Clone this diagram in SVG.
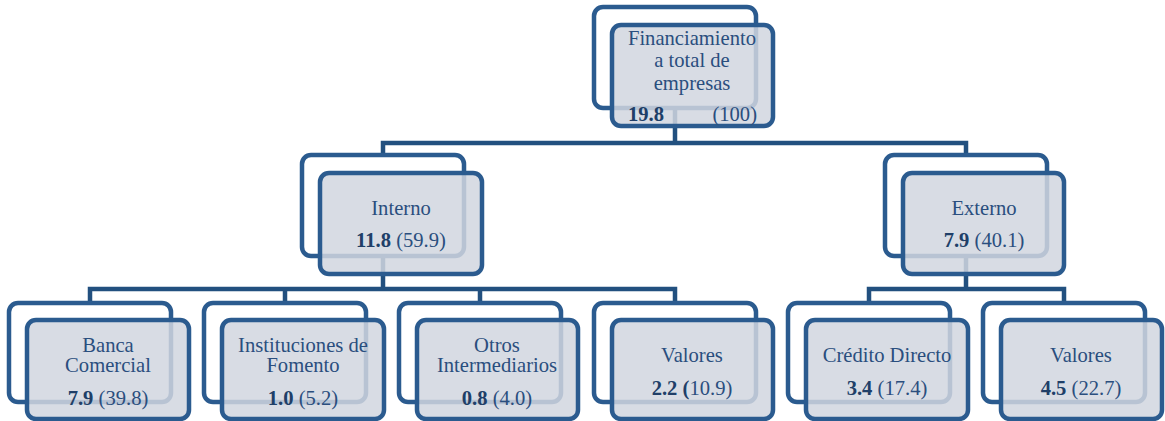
<svg xmlns="http://www.w3.org/2000/svg" width="1165" height="421" viewBox="0 0 1165 421">
  <style>
    .back { fill: #ffffff; stroke: #2b5b8f; stroke-width: 4.5; }
    .front { fill: rgb(209,214,223); fill-opacity: 0.85; stroke: #2b5b8f; stroke-width: 4.5; }
    .conn { fill: none; stroke: #22507f; stroke-width: 4.5; stroke-linejoin: miter; }
    text { font-family: "Liberation Serif", "Times New Roman", serif; font-size: 20.6px; fill: #2a4e7e; text-anchor: middle; }
    .num { font-weight: bold; fill: #203f68; }
  </style>

  <!-- connectors -->
  <g id="connectors">
    <path class="conn" d="M675 108 V143 M383 155 V143 H966 V155"/>
    <path class="conn" d="M383 256 V289 M90 303 V289 H675 V303 M285 289 V303 M480 289 V303"/>
    <path class="conn" d="M966 256 V289 M869 303 V289 H1064 V303"/>
  </g>

  <!-- root -->
  <g id="node-total">
    <rect class="back" x="594" y="7" width="162" height="101" rx="9"/>
    <rect class="front" x="612" y="25" width="161" height="101" rx="9"/>
    <text x="692" y="45">Financiamiento</text>
    <text x="692" y="67">a total de</text>
    <text x="692" y="90">empresas</text>
    <text x="628" y="121" style="text-anchor:start" class="num">19.8</text>
    <text x="757" y="121" style="text-anchor:end">(100)</text>
  </g>

  <!-- second level -->
  <g id="node-interno">
    <rect class="back" x="302" y="155" width="162" height="101" rx="9"/>
    <rect class="front" x="320" y="173" width="162" height="101" rx="9"/>
    <text x="401" y="215">Interno</text>
    <text x="401" y="247"><tspan class="num">11.8</tspan> (59.9)</text>
  </g>

  <g id="node-externo">
    <rect class="back" x="885" y="155" width="162" height="101" rx="9"/>
    <rect class="front" x="903" y="173" width="161" height="101" rx="9"/>
    <text x="984" y="215">Externo</text>
    <text x="984" y="247"><tspan class="num">7.9</tspan> (40.1)</text>
  </g>

  <!-- third level -->
  <g id="node-banca">
    <rect class="back" x="9" y="303" width="162" height="99" rx="9"/>
    <rect class="front" x="27" y="320" width="162" height="99" rx="9"/>
    <text x="108" y="352">Banca</text>
    <text x="108" y="372">Comercial</text>
    <text x="108" y="405"><tspan class="num">7.9</tspan> (39.8)</text>
  </g>

  <g id="node-fomento">
    <rect class="back" x="204" y="303" width="162" height="99" rx="9"/>
    <rect class="front" x="222" y="320" width="162" height="99" rx="9"/>
    <text x="303" y="352">Instituciones de</text>
    <text x="303" y="372">Fomento</text>
    <text x="303" y="405"><tspan class="num">1.0</tspan> (5.2)</text>
  </g>

  <g id="node-otros">
    <rect class="back" x="399" y="303" width="162" height="99" rx="9"/>
    <rect class="front" x="417" y="320" width="161" height="99" rx="9"/>
    <text x="497" y="352">Otros</text>
    <text x="497" y="372">Intermediarios</text>
    <text x="497" y="405"><tspan class="num">0.8</tspan> (4.0)</text>
  </g>

  <g id="node-valores-interno">
    <rect class="back" x="594" y="303" width="162" height="99" rx="9"/>
    <rect class="front" x="612" y="320" width="161" height="99" rx="9"/>
    <text x="692" y="362">Valores</text>
    <text x="692" y="395"><tspan class="num">2.2 (</tspan>10.9)</text>
  </g>

  <g id="node-credito">
    <rect class="back" x="788" y="303" width="162" height="99" rx="9"/>
    <rect class="front" x="806" y="320" width="162" height="99" rx="9"/>
    <text x="887" y="362">Crédito Directo</text>
    <text x="887" y="395"><tspan class="num">3.4</tspan> (17.4)</text>
  </g>

  <g id="node-valores-externo">
    <rect class="back" x="983" y="303" width="162" height="99" rx="9"/>
    <rect class="front" x="1001" y="320" width="161" height="99" rx="9"/>
    <text x="1081" y="362">Valores</text>
    <text x="1081" y="395"><tspan class="num">4.5</tspan> (22.7)</text>
  </g>
</svg>
